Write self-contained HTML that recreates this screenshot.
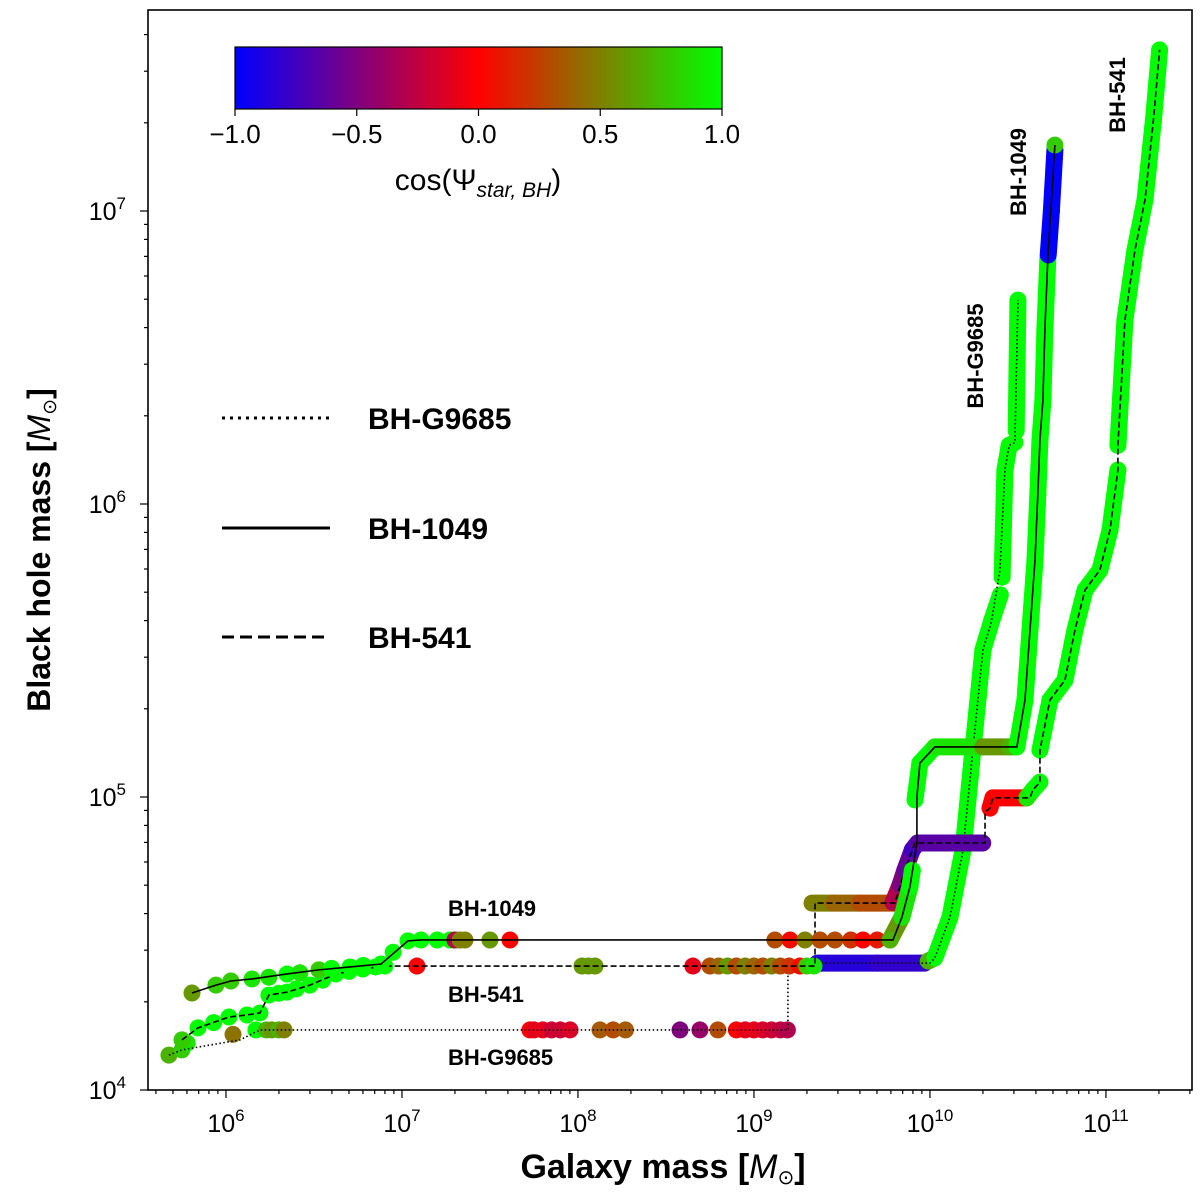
<!DOCTYPE html>
<html><head><meta charset="utf-8"><style>
html,body{margin:0;padding:0;background:#fff;}
svg{display:block;font-family:"Liberation Sans","DejaVu Sans",sans-serif;}
</style></head><body>
<svg id="chart" width="1200" height="1198" viewBox="0 0 1200 1198">
<defs>
<linearGradient id="cmap" x1="0" x2="1" y1="0" y2="0">
<stop offset="0" stop-color="#0000ff"/><stop offset="0.5" stop-color="#ff0000"/><stop offset="1" stop-color="#00ff00"/>
</linearGradient>
<clipPath id="plotclip"><rect x="148" y="10" width="1044" height="1080"/></clipPath>
</defs>
<g id="marks" clip-path="url(#plotclip)"></g>
<g id="axes"></g>
</svg>
<script>
// ---- data (log10 units: galaxy mass, BH mass, cos) ----
const line1049 = [[5.807,4.331],[5.943,4.358],[6.028,4.372],[6.148,4.379],[6.347,4.396],[6.528,4.41],[6.705,4.42],[6.881,4.43],[7.034,4.509],[7.108,4.512],[9.79,4.512],[9.841,4.59],[9.886,4.693],[9.926,4.843],[9.926,5.0],[9.943,5.116],[10.028,5.171],[10.494,5.171],[10.54,5.331],[10.597,5.809],[10.614,6.048],[10.625,6.218],[10.642,6.355],[10.653,6.594],[10.67,6.84],[10.71,7.225]];
const dots1049 = [[5.807,4.331,0.6],[5.943,4.358,0.8],[6.028,4.372,0.8],[6.148,4.379,0.9],[6.244,4.385,0.9],[6.347,4.396,1],[6.42,4.4,0.9],[6.528,4.41,0.8],[6.6,4.415,1],[6.705,4.42,1],[6.78,4.425,1],[6.881,4.43,1],[6.95,4.47,1],[7.034,4.509,1],[7.108,4.512,1],[7.2,4.512,1],[7.273,4.512,1],[7.301,4.512,-0.3],[7.33,4.512,0.5],[7.358,4.512,0.5],[7.5,4.512,0.6],[7.614,4.512,0],[9.119,4.512,0.3],[9.205,4.512,0.05],[9.29,4.512,0.5],[9.375,4.512,0.3],[9.46,4.512,0.3],[9.55,4.512,0.2],[9.62,4.512,0],[9.7,4.512,0.1],[9.773,4.512,0.7],[10.71,7.225,0.8]];
const bands1049 = [
 [[9.773,4.512,0.7],[9.841,4.59,0.6],[9.886,4.693,0.9],[9.9,4.75,1]],
 [[9.915,4.99,1],[9.943,5.116,1],[10.028,5.171,1],[10.3,5.171,0.9],[10.45,5.171,0.6],[10.494,5.171,0.7],[10.54,5.331,1],[10.597,5.809,1],[10.614,6.048,1],[10.625,6.218,1],[10.642,6.355,1],[10.653,6.594,1],[10.67,6.84,1]],
 [[10.672,6.85,-1],[10.69,7.0,-1],[10.71,7.208,-1]]];
const line541 = [[5.75,4.171],[5.841,4.212],[6.017,4.249],[6.119,4.256],[6.193,4.263],[6.244,4.324],[6.347,4.334],[6.477,4.358],[6.625,4.396],[6.778,4.413],[6.903,4.423],[9.347,4.423],[9.347,4.638],[9.801,4.638],[9.858,4.751],[9.915,4.843],[10.313,4.843],[10.313,4.949],[10.341,4.962],[10.358,4.997],[10.568,4.997],[10.585,5.024],[10.625,5.051],[10.625,5.16],[10.682,5.331],[10.767,5.399],[10.824,5.57],[10.881,5.706],[10.966,5.775],[11.023,5.911],[11.068,6.116],[11.068,6.2],[11.108,6.628],[11.165,6.867],[11.222,7.038],[11.27,7.311],[11.295,7.481],[11.305,7.55]];
const dots541 = [[5.75,4.171,0.8],[5.841,4.212,1],[5.93,4.23,1],[6.017,4.249,1],[6.119,4.256,1],[6.193,4.263,1],[6.244,4.324,1],[6.3,4.33,1],[6.347,4.334,1],[6.4,4.345,1],[6.477,4.358,1],[6.55,4.375,1],[6.625,4.396,1],[6.7,4.405,1],[6.778,4.413,1],[6.85,4.42,1],[6.903,4.423,1],[7.085,4.423,0],[8.023,4.423,0.6],[8.06,4.423,0.6],[8.097,4.423,0.6],[8.653,4.423,-0.1],[8.75,4.423,0.3],[8.8,4.423,0.4],[8.85,4.423,0.6],[8.9,4.423,0.3],[8.95,4.423,0.5],[9.0,4.423,0.4],[9.05,4.423,0.3],[9.1,4.423,0.5],[9.15,4.423,0.3],[9.2,4.423,0.2],[9.261,4.423,0.05],[9.3,4.423,0.8],[9.341,4.423,0.9]];
const bands541 = [
 [[9.33,4.638,0.3],[9.45,4.638,0.5],[9.6,4.638,0.4],[9.801,4.638,0.3]],
 [[9.79,4.64,0.3],[9.83,4.7,-0.3],[9.858,4.751,-0.5],[9.9,4.82,-0.6],[9.93,4.843,-0.75],[10.3,4.843,-0.65]],
 [[10.341,4.962,0.3],[10.358,4.997,0],[10.55,4.997,0],[10.585,5.024,0.9],[10.625,5.051,1]],
 [[10.625,5.16,0.4],[10.682,5.331,1],[10.767,5.399,1],[10.824,5.57,1],[10.881,5.706,1],[10.966,5.775,1],[11.023,5.911,1],[11.068,6.116,1]],
 [[11.068,6.2,1],[11.108,6.628,1],[11.165,6.867,1],[11.222,7.038,1],[11.27,7.311,1],[11.295,7.481,1],[11.305,7.55,1]]];
const lineG9685 = [[5.676,4.119],[5.75,4.137],[6.08,4.171],[6.193,4.205],[9.193,4.205],[9.193,4.42],[9.358,4.433],[10.0,4.433],[10.028,4.451],[10.114,4.59],[10.188,4.819],[10.244,5.16],[10.301,5.502],[10.35,5.6],[10.398,5.775],[10.426,6.116],[10.45,6.2],[10.483,6.21],[10.5,6.696]];
const dotsG9685 = [[5.676,4.119,0.7],[5.75,4.137,0.8],[5.78,4.16,0.9],[6.04,4.19,0.45],[6.17,4.205,1],[6.23,4.205,0.7],[6.26,4.205,0.6],[6.3,4.205,0.7],[6.33,4.205,0.5],[7.727,4.205,0],[7.75,4.205,-0.1],[7.8,4.205,-0.1],[7.85,4.205,-0.2],[7.9,4.205,-0.2],[7.955,4.205,-0.15],[8.125,4.205,0.35],[8.2,4.205,0.3],[8.27,4.205,0.35],[8.58,4.205,-0.5],[8.693,4.205,-0.4],[8.795,4.205,0.3],[8.9,4.205,0],[8.95,4.205,-0.1],[9.0,4.205,-0.1],[9.05,4.205,-0.15],[9.1,4.205,-0.2],[9.15,4.205,-0.25],[9.19,4.205,-0.3]];
const bandsG9685 = [
 [[9.36,4.433,-0.9],[9.7,4.433,-0.85],[9.97,4.433,-0.8]],
 [[9.99,4.44,0.4],[10.028,4.451,0.7],[10.114,4.59,1],[10.188,4.819,1],[10.244,5.16,1],[10.301,5.502,1],[10.35,5.6,1],[10.4,5.69,1]],
 [[10.41,5.75,1],[10.426,6.116,1],[10.45,6.2,1],[10.483,6.21,1]],
 [[10.49,6.25,1],[10.5,6.696,1]]];
const xTicks = [6,7,8,9,10,11];
const yTicks = [4,5,6,7];
const cbTicks = [-1,-0.5,0,0.5,1];
const cbLabels = ["\u22121.0","\u22120.5","0.0","0.5","1.0"];

// ---- scales ----
const X0=148,X1=1192,Y0=10,Y1=1090;
const xmin=5.557,xmax=11.489,ymin=4,ymax=7.686;
const sx=v=>X0+(v-xmin)/(xmax-xmin)*(X1-X0);
const sy=v=>Y1-(v-ymin)/(ymax-ymin)*(Y1-Y0);
const col=c=>{c=Math.max(-1,Math.min(1,c));let r,g,b;
 if(c<0){r=255*(1+c);g=0;b=-255*c;}else{r=255*(1-c);g=255*c;b=0;}
 return `rgb(${r|0},${g|0},${b|0})`;};
const NS="http://www.w3.org/2000/svg";
function mk(tag,attrs,parent){const e=document.createElementNS(NS,tag);for(const k in attrs)e.setAttribute(k,attrs[k]);parent.appendChild(e);return e;}
const marks=document.getElementById('marks');
const axes=document.getElementById('axes');

function drawSeries(name,line,dots,bands,dash){
 const g=mk('g',{},marks);
 
 
 bands.forEach(b=>{for(let i=1;i<b.length;i++){
  const s=mk('line',{x1:sx(b[i-1][0]),y1:sy(b[i-1][1]),x2:sx(b[i][0]),y2:sy(b[i][1]),stroke:col(b[i][2]),'stroke-width':17,'stroke-linecap':'round'},g);
  
  
 }});
 dots.forEach(d=>{
  const c=mk('circle',{cx:sx(d[0]),cy:sy(d[1]),r:8.5,fill:col(d[2])},g);
  
  
 });
 const p=mk('polyline',{points:line.map(q=>sx(q[0])+','+sy(q[1])).join(' '),fill:'none',stroke:'#000','stroke-width':1.6},g);
 if(dash)p.setAttribute('stroke-dasharray',dash);
 
 
}
drawSeries('bh-g9685',lineG9685,dotsG9685,bandsG9685,'1.5,2.5');
drawSeries('bh-541',line541,dots541,bands541,'6,3');
drawSeries('bh-1049',line1049,dots1049,bands1049,null);

// ---- axes ----
const frame=mk('rect',{x:X0,y:Y0,width:X1-X0,height:Y1-Y0,fill:'none',stroke:'#000','stroke-width':1.6},axes);


for(let d=5;d<=11;d++){for(let m=1;m<10;m++){const v=d+Math.log10(m);if(v<xmin||v>xmax)continue;
 const x=sx(v);mk('line',{x1:x,x2:x,y1:Y1,y2:Y1+(m==1?8:4),stroke:'#000','stroke-width':1.2},axes);}}
for(let d=4;d<=7;d++){for(let m=1;m<10;m++){const v=d+Math.log10(m);if(v<ymin||v>ymax)continue;
 const y=sy(v);mk('line',{x1:X0,x2:X0-(m==1?8:4),y1:y,y2:y,stroke:'#000','stroke-width':1.2},axes);}}
xTicks.forEach(t=>{const tx=mk('text',{x:sx(t),y:Y1+42,'text-anchor':'middle','font-size':25},axes);
 
 
 tx.innerHTML='10<tspan dy="-11" font-size="17">'+t+'</tspan>';});
yTicks.forEach(t=>{const tx=mk('text',{x:X0-22,y:sy(t)+9,'text-anchor':'end','font-size':25},axes);
 
 
 tx.innerHTML='10<tspan dy="-11" font-size="17">'+t+'</tspan>';});

// colorbar
const CB0=235,CB1=722,CBT=47,CBB=109;
const cbr=mk('rect',{x:CB0,y:CBT,width:CB1-CB0,height:CBB-CBT,fill:'url(#cmap)',stroke:'#000','stroke-width':1.2},axes);


cbTicks.forEach((t,i)=>{const x=CB0+(t+1)/2*(CB1-CB0);
 mk('line',{x1:x,x2:x,y1:CBB,y2:CBB+7,stroke:'#000','stroke-width':1.2},axes);
 const tx=mk('text',{x:x,y:CBB+34,'text-anchor':'middle','font-size':26},axes);
 
 
 tx.textContent=cbLabels[i];});
</script>
<script>
const ax=document.getElementById('axes');
ax.insertAdjacentHTML('beforeend',`
<text x="478" y="190" text-anchor="middle" font-size="30">cos(Ψ<tspan font-style="italic" font-size="21" dy="7">star, BH</tspan><tspan dy="-7">)</tspan></text>
<g font-weight="bold" font-size="30">
 <line x1="222" x2="330" y1="418" y2="418" stroke="#000" stroke-width="3" stroke-dasharray="3,5"/>
 <text x="368" y="429">BH-G9685</text>
 <line x1="222" x2="330" y1="528" y2="528" stroke="#000" stroke-width="3"/>
 <text x="368" y="539">BH-1049</text>
 <line x1="222" x2="330" y1="637" y2="637" stroke="#000" stroke-width="3" stroke-dasharray="12,6"/>
 <text x="368" y="648">BH-541</text>
</g>
<g font-weight="bold" font-size="22">
 <text x="448" y="916">BH-1049</text>
 <text x="448" y="1002">BH-541</text>
 <text x="448" y="1065">BH-G9685</text>
 <text transform="translate(983,356) rotate(-90)" text-anchor="middle">BH-G9685</text>
 <text transform="translate(1026,172) rotate(-90)" text-anchor="middle">BH-1049</text>
 <text transform="translate(1125,95) rotate(-90)" text-anchor="middle">BH-541</text>
</g>
<text x="663" y="1178" text-anchor="middle" font-size="34" font-weight="bold">Galaxy mass [<tspan font-style="italic" font-weight="normal">M</tspan><tspan font-size="20" font-weight="normal" dy="6">⊙</tspan><tspan dy="-6">]</tspan></text>
<text transform="translate(50,550) rotate(-90)" text-anchor="middle" font-size="32" font-weight="bold">Black hole mass [<tspan font-style="italic" font-weight="normal">M</tspan><tspan font-size="19" font-weight="normal" dy="6">⊙</tspan><tspan dy="-6">]</tspan></text>
`);
</script>
</body></html>
